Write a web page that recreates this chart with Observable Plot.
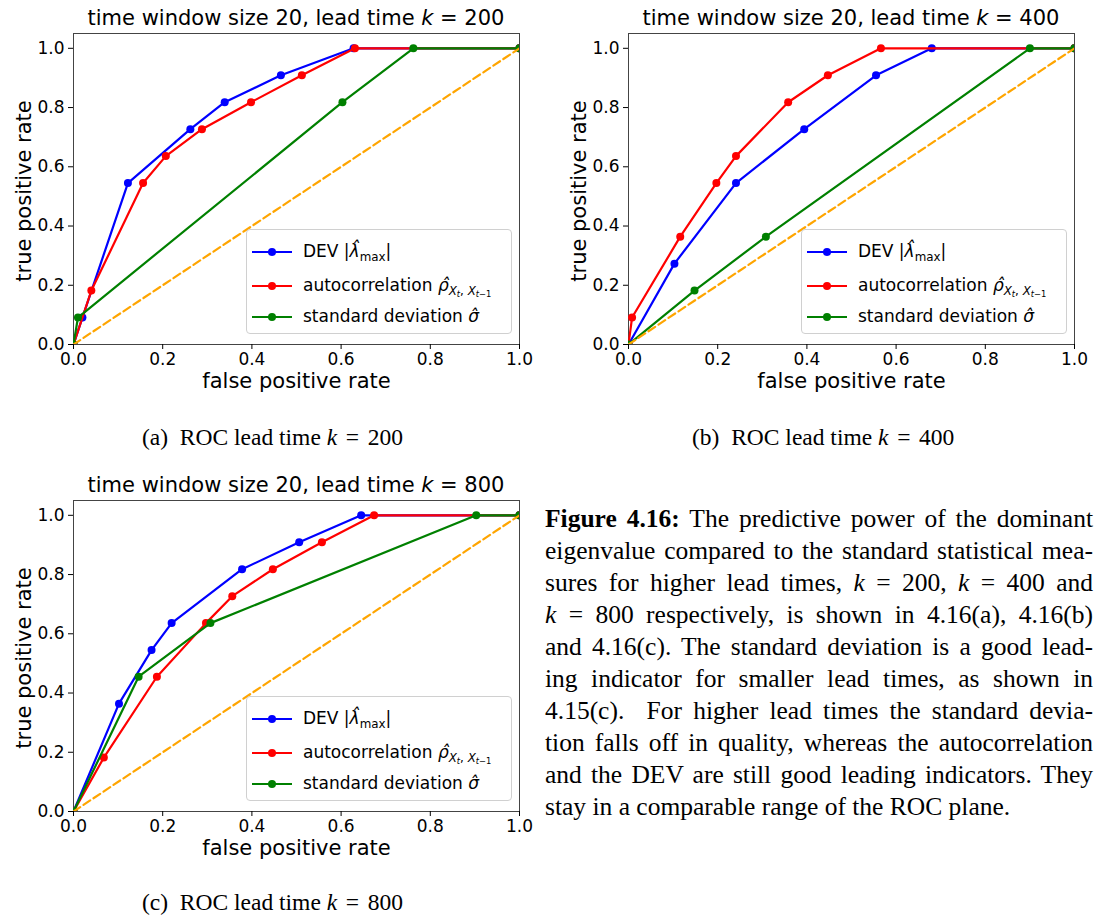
<!DOCTYPE html>
<html><head><meta charset="utf-8">
<script src="https://cdn.jsdelivr.net/npm/d3@7"></script>
<script src="https://cdn.jsdelivr.net/npm/@observablehq/plot@0.6"></script>
<style>
body{margin:0;background:#fff;}
#root{position:relative;width:1096px;height:918px;overflow:hidden;background:#fff;font-family:"DejaVu Sans",sans-serif;color:#000;}
.abs{position:absolute;}
.title{font-size:21px;line-height:21px;text-align:center;white-space:nowrap;}
.ylab{font-size:21px;line-height:21px;white-space:nowrap;transform:translate(-50%,-50%) rotate(-90deg);}
.mi{font-style:italic;}
.legend{border:1px solid #d0d0d0;border-radius:4px;background:rgba(255,255,255,0.85);box-sizing:border-box;}
.lrow{position:absolute;left:4px;height:0;font-size:17px;white-space:nowrap;}
.lrow svg{position:absolute;left:0;top:-5px;}
.lrow .lt{position:absolute;left:52px;top:-11px;line-height:20px;}
.sub{font-size:70%;vertical-align:-0.3em;line-height:0;}
.subcap{font-family:"Liberation Serif","Times New Roman",serif;font-size:23.5px;line-height:26px;white-space:nowrap;}
.cap{font-family:"Liberation Serif","Times New Roman",serif;font-size:25.5px;line-height:32px;width:548px;}
.cap div{text-align:justify;text-align-last:justify;white-space:nowrap;}
.cap div.last{text-align:left;text-align-last:left;}
.eq{padding:0 0.12em;}
</style></head><body><div id="root"></div>
<script>
// ---------- data ----------
const leadTimes = [200, 400, 800];
const windowSize = 20;
const seriesColors = ["#0000ff", "#ff0000", "#008000"];
const diagonalColor = "#ffa500";
const axisTicks = [0, 0.2, 0.4, 0.6, 0.8, 1.0];

// k = 200
const devFpr200 = [0, 0.02, 0.122, 0.262, 0.339, 0.465, 0.628, 1];
const devTpr200 = [0, 0.091, 0.545, 0.727, 0.818, 0.909, 1, 1];
const acFpr200 = [0, 0.04, 0.156, 0.207, 0.288, 0.398, 0.512, 0.631, 1];
const acTpr200 = [0, 0.182, 0.545, 0.636, 0.727, 0.818, 0.909, 1, 1];
const sdFpr200 = [0, 0.01, 0.603, 0.762, 1];
const sdTpr200 = [0, 0.091, 0.818, 1, 1];
// k = 400
const devFpr400 = [0, 0.103, 0.241, 0.394, 0.555, 0.68, 1];
const devTpr400 = [0, 0.273, 0.545, 0.727, 0.909, 1, 1];
const acFpr400 = [0, 0.008, 0.116, 0.197, 0.241, 0.358, 0.447, 0.566, 1];
const acTpr400 = [0, 0.091, 0.364, 0.545, 0.636, 0.818, 0.909, 1, 1];
const sdFpr400 = [0, 0.148, 0.308, 0.9, 1];
const sdTpr400 = [0, 0.182, 0.364, 1, 1];
// k = 800
const devFpr800 = [0, 0.102, 0.175, 0.22, 0.378, 0.506, 0.645, 1];
const devTpr800 = [0, 0.364, 0.545, 0.636, 0.818, 0.909, 1, 1];
const acFpr800 = [0, 0.068, 0.187, 0.297, 0.356, 0.447, 0.557, 0.674, 1];
const acTpr800 = [0, 0.182, 0.455, 0.636, 0.727, 0.818, 0.909, 1, 1];
const sdFpr800 = [0, 0.146, 0.307, 0.903, 1];
const sdTpr800 = [0, 0.455, 0.636, 1, 1];
// chance diagonal
const diagFpr = [0, 1];
const diagTpr = [0, 1];

const legendLabels = [
  'DEV |<span class="mi">λ̂</span><span class="sub">max</span>|',
  'autocorrelation <span class="mi">ρ̂</span><span class="sub"><span class="mi">X</span><span class="sub"><span class="mi">t</span></span>, <span class="mi">X</span><span class="sub"><span class="mi">t</span>−1</span></span>',
  'standard deviation <span class="mi">σ̂</span>'
];
const subLetters = ["(a)", "(b)", "(c)"];
const xLabel = "false positive rate";
const yLabel = "true positive rate";
const captionLines = [
  "<b>Figure 4.16:</b> The predictive power of the dominant",
  "eigenvalue compared to the standard statistical mea-",
  "sures for higher lead times, <i>k</i> = 200, <i>k</i> = 400 and",
  "<i>k</i> = 800 respectively, is shown in 4.16(a), 4.16(b)",
  "and 4.16(c). The standard deviation is a good lead-",
  "ing indicator for smaller lead times, as shown in",
  "4.15(c).&nbsp; For higher lead times the standard devia-",
  "tion falls off in quality, whereas the autocorrelation",
  "and the DEV are still good leading indicators. They",
  "stay in a comparable range of the ROC plane."
];

// ---------- layout ----------
const W = 540, H = 400, mL = 73, mR = 21, mT = 33, mB = 56;
const panels = [
  {k: leadTimes[0], left: 0, top: 0, sub: subLetters[0], subLeft: 142, subY: 437,
   series: [[devFpr200, devTpr200], [acFpr200, acTpr200], [sdFpr200, sdTpr200]]},
  {k: leadTimes[1], left: 555, top: 0, sub: subLetters[1], subLeft: 692, subY: 437,
   series: [[devFpr400, devTpr400], [acFpr400, acTpr400], [sdFpr400, sdTpr400]]},
  {k: leadTimes[2], left: 0, top: 467, sub: subLetters[2], subLeft: 142, subY: 902,
   series: [[devFpr800, devTpr800], [acFpr800, acTpr800], [sdFpr800, sdTpr800]]}
];

const root = document.getElementById("root");
function add(html, cls, style) {
  const d = document.createElement("div");
  d.className = "abs " + (cls || "");
  Object.assign(d.style, style);
  d.innerHTML = html;
  root.appendChild(d);
  return d;
}
const fmt = d3.format(".1f");

for (const p of panels) {
  const marks = [Plot.frame({stroke: "#444", strokeWidth: 1})];
  p.series.forEach(([fx, ty], i) => {
    const rows = fx.map((f, j) => ({fpr: f, tpr: ty[j]}));
    marks.push(Plot.line(rows, {x: "fpr", y: "tpr", stroke: seriesColors[i], strokeWidth: 2.2, clip: true}));
    marks.push(Plot.dot(rows, {x: "fpr", y: "tpr", fill: seriesColors[i], r: 4, clip: true}));
  });
  const diag = diagFpr.map((f, j) => ({fpr: f, tpr: diagTpr[j]}));
  marks.push(Plot.line(diag, {x: "fpr", y: "tpr", stroke: diagonalColor, strokeWidth: 2.2, strokeDasharray: "8,4", clip: true}));
  marks.push(Plot.axisX({ticks: axisTicks, tickFormat: fmt, tickSize: 5, tickPadding: 3, fontSize: 17, label: null}));
  marks.push(Plot.axisY({ticks: axisTicks, tickFormat: fmt, tickSize: 5, tickPadding: 4, fontSize: 17, label: null}));
  marks.push(Plot.text([xLabel], {frameAnchor: "bottom", lineAnchor: "middle", dy: 37, fontSize: 21, text: d => d}));

  const svg = Plot.plot({
    width: W, height: H,
    marginLeft: mL, marginRight: mR, marginTop: mT, marginBottom: mB,
    x: {domain: [0, 1]},
    y: {domain: [0, 1.05]},
    style: {fontFamily: "DejaVu Sans", color: "black", background: "transparent", overflow: "visible"},
    marks
  });
  const wrap = add("", "", {left: p.left + "px", top: p.top + "px", width: W + "px", height: H + "px"});
  wrap.appendChild(svg);

  const fL = p.left + mL, fR = p.left + W - mR, fT = p.top + mT, fB = p.top + H - mB;
  // title
  add(`time window size ${windowSize}, lead time <span class="mi">k</span> = ${p.k}`, "title",
      {left: fL + "px", width: (fR - fL) + "px", top: (p.top + 8) + "px"});
  // y label
  add(yLabel, "ylab", {left: (p.left + 24) + "px", top: ((fT + fB) / 2 + 2) + "px"});
  // legend
  const lg = add("", "legend", {left: (fR - 7 - 266) + "px", top: (fB - 10 - 105) + "px", width: "266px", height: "105px"});
  const rowY = [22, 56, 87];
  legendLabels.forEach((lab, i) => {
    const r = document.createElement("div");
    r.className = "lrow";
    r.style.top = rowY[i] + "px";
    r.innerHTML = `<svg width="42" height="10"><line x1="1" y1="5" x2="41" y2="5" stroke="${seriesColors[i]}" stroke-width="2.2"/><circle cx="21" cy="5" r="4" fill="${seriesColors[i]}"/></svg><span class="lt">${lab}</span>`;
    lg.appendChild(r);
  });
  // subcaption
  add(`${p.sub}&nbsp; ROC lead time <i>k</i><span class="eq"> = </span>${p.k}`, "subcap", {left: p.subLeft + "px", top: (p.subY - 13) + "px"});
}

// figure caption
const cap = add("", "cap", {left: "545px", top: "503px"});
captionLines.forEach((t, i) => {
  const d = document.createElement("div");
  if (i === captionLines.length - 1) d.className = "last";
  d.innerHTML = t;
  cap.appendChild(d);
});
</script></body></html>
